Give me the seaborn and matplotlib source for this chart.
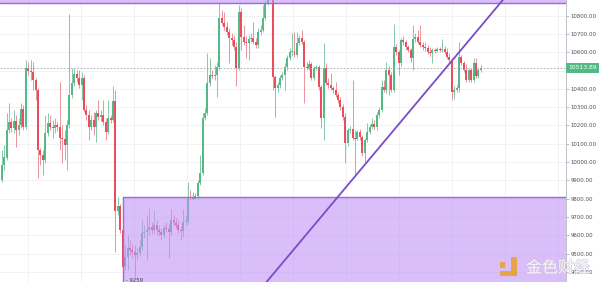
import numpy as np
import pandas as pd
import matplotlib
matplotlib.use("Agg")
import matplotlib.pyplot as plt
from matplotlib.patches import Rectangle
import matplotlib.patheffects as pe
import seaborn as sns

# ---------------- data (prices) ----------------
opens = [
    9902, 9984, 10023, 10175, 10219, 10186, 10225, 10175, 10203, 10290,
    10192, 10514, 10497, 10492, 10448, 10394, 10066, 10039, 10012, 10159,
    10214, 10192, 10186, 10203, 10192, 10132, 10126, 10094, 10203, 10366,
    10432, 10481, 10459, 10421, 10459, 10285, 10257, 10192, 10230, 10192,
    10268, 10246, 10257, 10219, 10165, 10241, 10230, 10334, 9733, 9761,
    9630, 9428, 9482, 9531, 9520, 9510, 9493, 9504, 9537, 9613,
    9619, 9630, 9646, 9630, 9657, 9630, 9619, 9602, 9640, 9635,
    9619, 9684, 9668, 9657, 9630, 9624, 9673, 9679, 9810, 9804,
    9799, 9815, 9886, 9941, 10241, 10268, 10432, 10476, 10470, 10476,
    10519, 10787, 10759, 10737, 10710, 10677, 10667, 10628, 10514, 10819,
    10683, 10656, 10650, 10672, 10677, 10656, 10639, 10710, 10721, 10787,
    10869, 10896, 10912, 10465, 10405, 10421, 10459, 10476, 10519, 10568,
    10601, 10607, 10585, 10650, 10677, 10656, 10519, 10514, 10536, 10459,
    10514, 10519, 10410, 10241, 10514, 10432, 10421, 10405, 10394, 10366,
    10339, 10301, 10246, 10105, 10175, 10181, 10132, 10126, 10165, 10137,
    10050, 10121, 10165, 10192, 10208, 10192, 10257, 10285, 10410, 10394,
    10503, 10476, 10394, 10628, 10601, 10541, 10667, 10656, 10628, 10612,
    10568, 10672, 10683, 10656, 10639, 10628, 10623, 10601, 10596, 10612,
    10607, 10617, 10612, 10617, 10601, 10574, 10557, 10383, 10394, 10405,
    10574, 10541, 10503, 10448, 10503, 10448, 10541, 10470, 10503,
]
highs = [
    10066, 10094, 10268, 10323, 10241, 10285, 10257, 10241, 10323, 10312,
    10557, 10547, 10557, 10547, 10459, 10405, 10077, 10066, 10257, 10268,
    10257, 10230, 10241, 10219, 10437, 10203, 10175, 10230, 10808, 10514,
    10514, 10503, 10503, 10492, 10476, 10312, 10285, 10257, 10274, 10285,
    10339, 10285, 10339, 10241, 10339, 10257, 10415, 10394, 9810, 9772,
    9640, 9548, 9602, 9575, 9553, 9548, 9531, 9575, 9684, 9657,
    9711, 9750, 9673, 9739, 9684, 9657, 9640, 9657, 9673, 9662,
    9744, 9711, 9695, 9684, 9651, 9744, 9711, 9892, 9848, 9837,
    9832, 9902, 10039, 10268, 10295, 10596, 10568, 10503, 10530, 10547,
    10874, 10830, 10819, 10765, 10732, 10705, 10694, 10656, 10857, 10841,
    10748, 10688, 10694, 10705, 10765, 10677, 10732, 10748, 10857, 10885,
    10912, 10929, 10929, 10476, 10437, 10476, 10492, 10541, 10585, 10623,
    10705, 10710, 10710, 10694, 10721, 10667, 10547, 10557, 10547, 10525,
    10530, 10530, 10421, 10650, 10541, 10459, 10486, 10415, 10437, 10383,
    10355, 10317, 10268, 10186, 10197, 10448, 10175, 10175, 10181, 10148,
    10132, 10214, 10208, 10241, 10230, 10274, 10301, 10448, 10448, 10547,
    10525, 10492, 10754, 10645, 10612, 10677, 10688, 10667, 10639, 10623,
    10748, 10705, 10721, 10748, 10656, 10656, 10639, 10628, 10623, 10623,
    10628, 10628, 10672, 10634, 10623, 10596, 10568, 10415, 10421, 10656,
    10585, 10552, 10536, 10514, 10514, 10568, 10568, 10514, 10530,
]
lows = [
    9892, 9957, 10012, 10159, 10165, 10159, 10083, 10148, 10186, 10175,
    10181, 10476, 10448, 10394, 10339, 9913, 9984, 9930, 9995, 10143,
    10175, 10132, 10159, 10170, 10066, 9995, 10012, 9957, 10186, 10350,
    10415, 10437, 10405, 10339, 10274, 10230, 10121, 10175, 10148, 10110,
    10230, 10225, 10203, 10121, 10154, 10214, 10219, 9510, 9711, 9613,
    9384, 9411, 9411, 9493, 9477, 9373, 9466, 9488, 9520, 9586,
    9466, 9602, 9608, 9613, 9602, 9597, 9575, 9586, 9619, 9477,
    9602, 9651, 9640, 9613, 9575, 9591, 9657, 9662, 9793, 9793,
    9799, 9799, 9875, 9930, 10230, 10257, 10415, 10459, 10448, 10355,
    10503, 10748, 10721, 10694, 10541, 10639, 10612, 10415, 10503, 10612,
    10639, 10568, 10557, 10656, 10645, 10623, 10623, 10694, 10710, 10776,
    10857, 10885, 10394, 10246, 10383, 10405, 10448, 10394, 10503, 10557,
    10579, 10574, 10574, 10639, 10645, 10323, 10503, 10503, 10448, 10448,
    10503, 10394, 10186, 10121, 10421, 10405, 10394, 10377, 10355, 10323,
    10285, 10230, 9995, 10088, 10159, 10121, 9930, 10121, 10121, 10033,
    9995, 10110, 10154, 10181, 10175, 10175, 10241, 10274, 10383, 10377,
    10366, 10383, 10383, 10585, 10476, 10525, 10639, 10612, 10601, 10547,
    10503, 10656, 10645, 10628, 10612, 10607, 10590, 10579, 10541, 10596,
    10601, 10601, 10601, 10590, 10563, 10547, 10339, 10345, 10383, 10383,
    10530, 10492, 10437, 10437, 10437, 10437, 10459, 10459, 10492,
]
closes = [
    9984, 10028, 10175, 10219, 10186, 10225, 10175, 10203, 10290, 10192,
    10514, 10497, 10492, 10448, 10394, 10066, 10039, 10012, 10159, 10214,
    10192, 10186, 10203, 10192, 10132, 10126, 10094, 10203, 10366, 10432,
    10481, 10459, 10421, 10459, 10285, 10257, 10192, 10230, 10192, 10268,
    10246, 10257, 10219, 10165, 10241, 10230, 10334, 9733, 9761, 9630,
    9428, 9482, 9531, 9520, 9510, 9493, 9504, 9537, 9613, 9619,
    9630, 9646, 9630, 9657, 9630, 9619, 9602, 9640, 9635, 9619,
    9684, 9668, 9657, 9630, 9624, 9673, 9679, 9810, 9804, 9799,
    9815, 9886, 9941, 10241, 10268, 10432, 10476, 10470, 10476, 10519,
    10787, 10759, 10737, 10710, 10677, 10667, 10628, 10514, 10819, 10683,
    10656, 10650, 10672, 10677, 10656, 10639, 10710, 10721, 10787, 10869,
    10896, 10912, 10465, 10405, 10421, 10459, 10476, 10519, 10568, 10601,
    10607, 10585, 10650, 10677, 10656, 10519, 10514, 10536, 10459, 10514,
    10519, 10410, 10241, 10514, 10432, 10421, 10405, 10394, 10366, 10339,
    10301, 10246, 10105, 10175, 10181, 10132, 10126, 10165, 10137, 10050,
    10121, 10165, 10192, 10208, 10192, 10257, 10285, 10410, 10394, 10503,
    10476, 10394, 10628, 10601, 10541, 10667, 10656, 10628, 10612, 10568,
    10672, 10683, 10656, 10639, 10628, 10623, 10601, 10596, 10612, 10607,
    10617, 10612, 10617, 10601, 10574, 10557, 10383, 10394, 10405, 10574,
    10541, 10503, 10448, 10503, 10448, 10541, 10470, 10503, 10513.89,
]

price_ticks = [9400, 9500, 9600, 9700, 9800, 9900, 10000, 10100, 10200,
               10300, 10400, 10500, 10600, 10700, 10800]
hidden_tick = 10500              # label covered by the last-price tag
time_grid = [10.9, 32.8, 54.7, 76.6, 98.5, 120.4, 142.3, 164.2, 186.1, 208.0, 229.9]
last_price = 10513.89
low_label = "9259"
upper_zone = [10867, 10990]      # resistance zone (bottom, top)
lower_zone = [9200, 9811]        # support zone (bottom, top)
lower_zone_start = 50.0          # bar index where support zone starts
trend_x = [109.5, 207.1]
trend_y = [9346, 10885]
watermark = "金色财经"

# ---------------- style ----------------
sns.set_style("white")
plt.rcParams["font.family"] = ["DejaVu Sans"]

UP, DOWN = "#53b987", "#eb4d5c"
UP_WICK, DOWN_WICK = "#86c9a8", "#e9939b"
PURPLE_FILL = "#c193f7"
PURPLE_EDGE = "#9b6bdc"
TREND = "#7a4cc8"

df = pd.DataFrame({"open": opens, "high": highs, "low": lows, "close": closes})
df["x"] = np.arange(len(df))
df["up"] = df["close"] >= df["open"]

fig = plt.figure(figsize=(6.0, 2.82), dpi=100)
ax = fig.add_axes([0, 0, 566 / 600, 1])

ymin, ymax = 9345, 10885
xmin, xmax = -0.7, 233.2

# grid
for gx in time_grid:
    ax.axvline(gx, color="#eef0f4", lw=0.6, zorder=0)
for p in price_ticks:
    ax.axhline(p, color="#eef0f4", lw=0.6, zorder=0)

# candles
for is_up, col, wcol in [(True, UP, UP_WICK), (False, DOWN, DOWN_WICK)]:
    d = df[df["up"] == is_up]
    ax.vlines(d["x"], d["low"], d["high"], color=wcol, lw=0.7, zorder=2)
    bottom = np.minimum(d["open"], d["close"])
    height = np.maximum(np.abs(d["close"] - d["open"]), 6)
    ax.bar(d["x"], height, bottom=bottom, width=0.82, color=col,
           edgecolor="none", zorder=3)

# last price dashed line
ax.axhline(last_price, color="#9ea3ad", lw=0.6, ls=(0, (2, 2)), zorder=4)

# zones
ax.add_patch(Rectangle((xmin, upper_zone[0]), xmax - xmin, upper_zone[1] - upper_zone[0],
                       facecolor=PURPLE_FILL, alpha=0.6, edgecolor="none", zorder=5))
ax.axhline(upper_zone[0], color=PURPLE_EDGE, lw=1.0, zorder=6)
ax.add_patch(Rectangle((lower_zone_start, lower_zone[0]), xmax - lower_zone_start,
                       lower_zone[1] - lower_zone[0],
                       facecolor=PURPLE_FILL, alpha=0.6, edgecolor="none", zorder=5))
ax.plot([lower_zone_start, xmax], [lower_zone[1], lower_zone[1]], color=PURPLE_EDGE,
        lw=1.0, zorder=6)
ax.plot([lower_zone_start, lower_zone_start], [lower_zone[0], lower_zone[1]],
        color=PURPLE_EDGE, lw=1.0, zorder=6)

# trend line
sns.lineplot(x=trend_x, y=trend_y, ax=ax, color=TREND, lw=1.3, zorder=7,
             estimator=None, sort=False)

# low label
ax.text(lower_zone_start + 1.5, ymin + 10, "- " + low_label, fontsize=3.8, color="#3c3f48",
        va="center", ha="left", zorder=8)

ax.set_xlim(xmin, xmax)
ax.set_ylim(ymin, ymax)
ax.set_xticks([])
ax.yaxis.tick_right()
ax.set_yticks(price_ticks)
ax.set_yticklabels(["" if p == hidden_tick else f"{p:.2f}" for p in price_ticks])
ax.tick_params(axis="y", length=2, width=0.5, color="#a0a4ac", labelsize=3.9,
               labelcolor="#4a4e57", pad=1.5)
for s in ["top", "left", "bottom"]:
    ax.spines[s].set_visible(False)
ax.spines["right"].set_color("#b4b8c0")
ax.spines["right"].set_linewidth(0.6)

# last price tag
ax.text(1.004, last_price, f"{last_price:.2f}", transform=ax.get_yaxis_transform(),
        fontsize=4.3, color="white", va="center", ha="left", zorder=10, clip_on=False,
        bbox=dict(boxstyle="square,pad=0.45", facecolor=UP, edgecolor="none"))

# watermark
for (x0, y0, w, h) in [(500, 262, 5, 6), (511, 257, 6, 19), (500, 271, 17, 5)]:
    fig.patches.append(Rectangle((x0 / 600, 1 - (y0 + h) / 282), w / 600, h / 282,
                                 transform=fig.transFigure, facecolor="#e8a238",
                                 edgecolor="none", alpha=0.9, zorder=20))
fig.text(526 / 600, 1 - 268 / 282, watermark, fontsize=11.5, color="#fbf8ff", alpha=0.9,
         va="center", ha="left", family=["Noto Sans CJK SC", "DejaVu Sans"], zorder=21,
         path_effects=[pe.withStroke(linewidth=0.8, foreground="#cfc8d8")])

fig.savefig("out.png", dpi=100)
